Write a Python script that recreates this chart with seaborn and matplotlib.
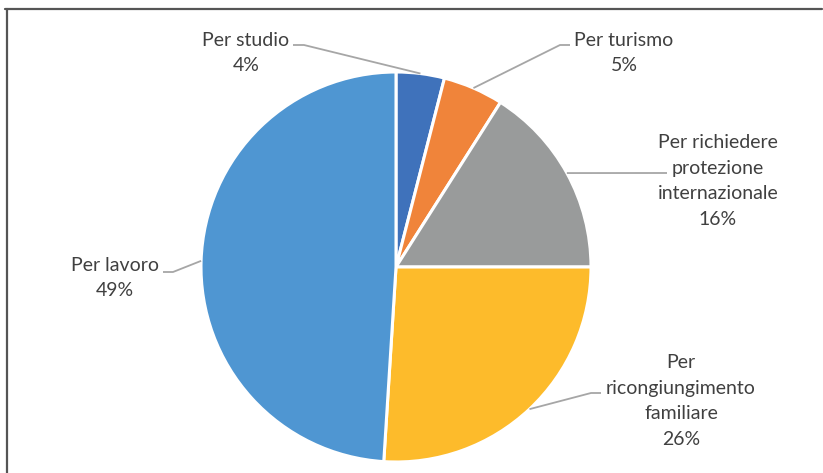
import numpy as np
import matplotlib
matplotlib.use("Agg")
import matplotlib.pyplot as plt
from matplotlib.lines import Line2D
import seaborn as sns

# Motivo del permesso di soggiorno (quote percentuali)
categories = [
    "Per studio",
    "Per turismo",
    "Per richiedere\nprotezione\ninternazionale",
    "Per\nricongiungimento\nfamiliare",
    "Per lavoro",
]
shares = [4, 5, 16, 26, 49]
colors = ["#3F72BB", "#F0843A", "#999B9B", "#FDBB2B", "#4F96D2"]

W, H = 823, 473
sns.set_theme(style="white")
plt.rcParams["font.family"] = ["Lato", "DejaVu Sans"]

fig = plt.figure(figsize=(W / 100, H / 100), dpi=100)
ax = fig.add_axes([0, 0, 1, 1])

cx, cy, r = 396, H - 267, 195
wedges, _ = ax.pie(
    shares, colors=colors, startangle=90, counterclock=False,
    center=(cx, cy), radius=r,
    wedgeprops=dict(edgecolor="white", linewidth=2.2),
)
ax.set_xlim(0, W)
ax.set_ylim(0, H)
ax.set_aspect("equal")
ax.axis("off")

# label block centre and leader path (elbow, end) in pixel rows from the top
layout = [
    dict(text=(246, 53), elbow=(304, 45), end=(293, 45)),
    dict(text=(624, 53), elbow=(560, 45), end=(570, 45)),
    dict(text=(718, 181), elbow=(660, 173), end=(667, 173)),
    dict(text=(681, 401), elbow=(591, 393), end=(601, 393)),
    dict(text=(115, 278), elbow=(173, 272), end=(163, 272)),
]

text_color = "#404040"
for w, cat, val, lay in zip(wedges, categories, shares, layout):
    mid = np.deg2rad((w.theta1 + w.theta2) / 2)
    ax0 = cx + r * np.cos(mid)
    ay0 = cy + r * np.sin(mid)
    ex, ey = lay["elbow"]
    tx, ty = lay["end"]
    ax.plot([ax0, ex, tx], [ay0, H - ey, H - ty], color="#A6A6A6", lw=1.3,
            solid_capstyle="butt", zorder=3)
    lx, ly = lay["text"]
    ax.text(lx, H - ly, f"{cat}\n{val}%", ha="center", va="center",
            multialignment="center", fontsize=14, color=text_color,
            linespacing=1.6)

# frame lines along the top and left edges
fig.add_artist(Line2D([5 / W, 822 / W], [1 - 9.5 / H, 1 - 9.5 / H],
                      transform=fig.transFigure, color="#555555", lw=1.6))
fig.add_artist(Line2D([6.5 / W, 6.5 / W], [1 - 9 / H, 0],
                      transform=fig.transFigure, color="#555555", lw=1.6))

fig.savefig("out.png", dpi=100)
